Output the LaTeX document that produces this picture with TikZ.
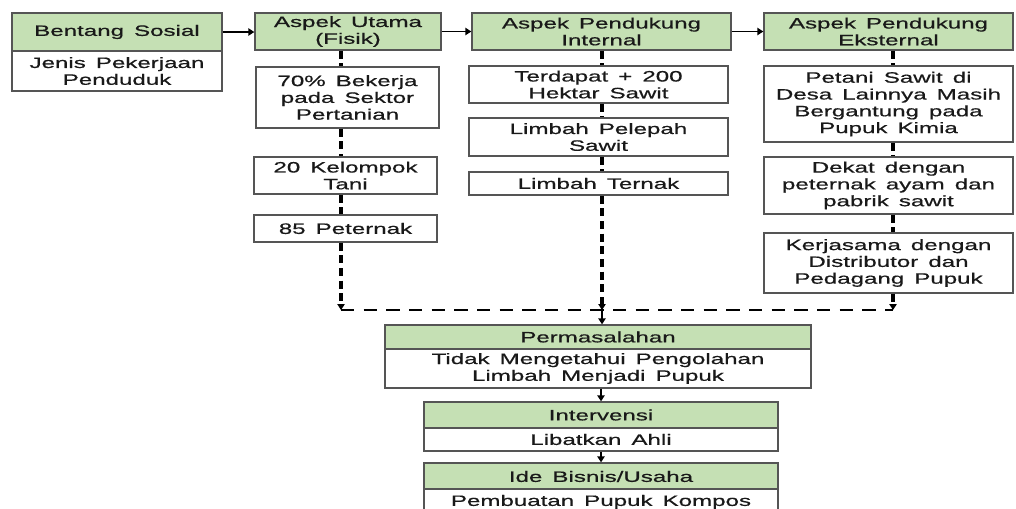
\documentclass[tikz,border=0pt]{standalone}
\usepackage{fontspec}
\setmainfont{Liberation Sans}[FakeStretch=1.6,WordSpace=1.5,FakeBold=0.6]
\usetikzlibrary{arrows.meta}
\definecolor{hdrg}{RGB}{197,224,180}
\definecolor{bordc}{RGB}{85,85,85}
\definecolor{txtc}{RGB}{25,25,25}
\begin{document}
\begin{tikzpicture}[x=0.75pt,y=-0.75pt,
  sz/.style 2 args={minimum width=#1*0.75pt, minimum height=#2*0.75pt},
  boxbase/.style={draw=bordc, line width=1pt, inner sep=0pt, align=center, text=txtc,
    font=\fontsize{11.3}{12.6}\selectfont},
  hdr/.style={boxbase, fill=hdrg},
  bdy/.style={boxbase, fill=white},
  vdash/.style={line width=2.8pt, dash pattern=on 6pt off 3.5pt},
  hdash/.style={line width=1.9pt, dash pattern=on 10pt off 7pt},
  tip/.style={-{Triangle[length=4.5pt,width=5.5pt]}},
  solidarr/.style={line width=1.2pt, -{Triangle[length=4.5pt,width=5.5pt]}}]
\useasboundingbox (0,0) rectangle (1016,508);
% column 1
\node[hdr, sz={210}{38}] (bs) at (117,32) {Bentang Sosial};
\node[bdy, sz={210}{40}] (bsb) at (117,71) {Jenis Pekerjaan\\Penduduk};
% column 2
\node[hdr, sz={186}{37}] (au) at (348,31.5) {Aspek Utama\\(Fisik)};
\node[bdy, sz={183}{61}] (b1) at (347.5,97.5) {70\% Bekerja\\pada Sektor\\Pertanian};
\node[bdy, sz={183}{37}] (b2) at (345.5,175.5) {20 Kelompok\\Tani};
\node[bdy, sz={183}{27}] (b3) at (345.5,228.5) {85 Peternak};
% column 3
\node[hdr, sz={259}{37}] (ai) at (601.5,31.5) {Aspek Pendukung\\Internal};
\node[bdy, sz={259}{37}] (c1) at (598.5,84.5) {Terdapat + 200\\Hektar Sawit};
\node[bdy, sz={259}{38}] (c2) at (598.5,137) {Limbah Pelepah\\Sawit};
\node[bdy, sz={259}{23}] (c3) at (598.5,183.5) {Limbah Ternak};
% column 4
\node[hdr, sz={249}{37}] (ae) at (888.5,31.5) {Aspek Pendukung\\Eksternal};
\node[bdy, sz={249}{76}] (d1) at (888.5,104) {Petani Sawit di\\Desa Lainnya Masih\\Bergantung pada\\Pupuk Kimia};
\node[bdy, sz={249}{57}] (d2) at (888.5,185.5) {Dekat dengan\\peternak ayam dan\\pabrik sawit};
\node[bdy, sz={249}{60}] (d3) at (888.5,263) {Kerjasama dengan\\Distributor dan\\Pedagang Pupuk};
% bottom
\node[hdr, sz={426}{24}] (pm) at (598,337) {Permasalahan};
\node[bdy, sz={426}{39}] (pmb) at (598,368.5) {Tidak Mengetahui Pengolahan\\Limbah Menjadi Pupuk};
\node[hdr, sz={354}{26}] (iv) at (601,415) {Intervensi};
\node[bdy, sz={354}{23}] (ivb) at (601,439.5) {Libatkan Ahli};
\node[hdr, sz={354}{27}] (ib) at (601,476.5) {Ide Bisnis/Usaha};
\node[bdy, sz={354}{26}] (ibb) at (601,502) {Pembuatan Pupuk Kompos};
% coordinates
\coordinate (xl) at (341,0);
\coordinate (xm) at (602,0);
\coordinate (xr) at (893,0);
\coordinate (cl) at (341,310);
\coordinate (cm) at (602,310);
\coordinate (cr) at (893,310);
% top arrows
\draw[solidarr] (bs.east) -- (bs.east -| au.west);
\draw[solidarr] (au.east) -- (ai.west);
\draw[solidarr] (ai.east) -- (ae.west);
% column dashes
\draw[vdash] (au.south -| xl) -- (b1.north -| xl);
\draw[vdash] (b1.south -| xl) -- (b2.north -| xl);
\draw[vdash] (b2.south -| xl) -- (b3.north -| xl);
\draw[vdash, tip] (b3.south -| xl) -- (cl);
\draw[vdash] (ai.south -| xm) -- (c1.north -| xm);
\draw[vdash] (c1.south -| xm) -- (c2.north -| xm);
\draw[vdash] (c2.south -| xm) -- (c3.north -| xm);
\draw[vdash, tip] (c3.south -| xm) -- (cm);
\draw[vdash] (ae.south -| xr) -- (d1.north -| xr);
\draw[vdash] (d1.south -| xr) -- (d2.north -| xr);
\draw[vdash] (d2.south -| xr) -- (d3.north -| xr);
\draw[vdash, tip] (d3.south -| xr) -- (cr);
\draw[hdash] (cl) -- (cr);
% bottom arrows
\draw[solidarr] (cm) -- (cm |- pm.north);
\draw[solidarr] (pmb.south -| iv.north) -- (iv.north);
\draw[solidarr] (ivb.south) -- (ib.north);
\end{tikzpicture}
\end{document}
